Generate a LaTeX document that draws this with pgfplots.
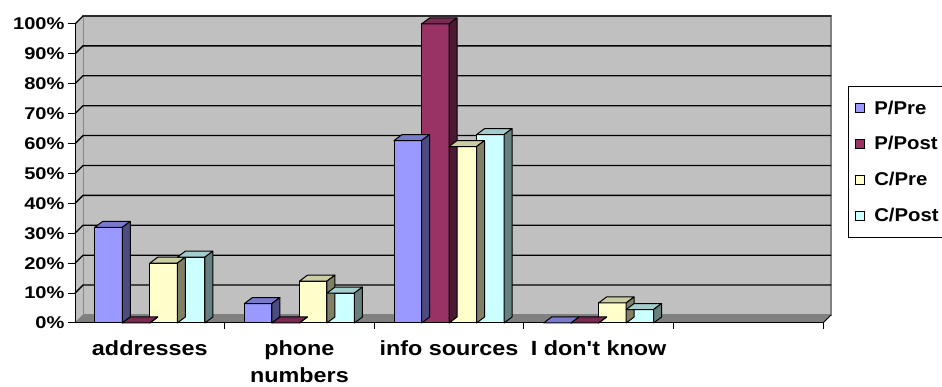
\documentclass[border=0pt]{standalone}
\usepackage{pgfplots}
\usepackage{pgfplotstable}
\pgfplotsset{compat=1.18}
\usepackage{fontspec}
\setmainfont{Liberation Sans}[FakeStretch=1.18]
\newfontfamily\catfont{Liberation Sans}[FakeStretch=1.14]
\newfontfamily\legfont{Liberation Sans}[FakeStretch=1.1]
\definecolor{pPre}{HTML}{9999FF}
\definecolor{pPost}{HTML}{993366}
\definecolor{cPre}{HTML}{FFFFCC}
\definecolor{cPost}{HTML}{CCFFFF}
\definecolor{wallc}{HTML}{C0C0C0}
\definecolor{floorc}{HTML}{808080}
\pgfdeclareplotmark{none3d}{}
\newcommand\legsq[1]{\draw[fill=#1,draw=black,line width=0.8pt] (0pt,-4.5pt) rectangle (9pt,4.5pt);}
\pgfplotsset{
  front/.style n args={2}{ybar, bar width=27.5pt, bar shift=#1, fill=#2, draw=black, line width=1pt,
     legend image code/.code={\legsq{#2}}},
  face3d/.style n args={2}{forget plot, only marks, scatter, mark=none3d,
     visualization depends on={rawy \as \barval},
     scatter/@pre marker code/.code={%
        \pgfmathsetlengthmacro{\barH}{\barval*2.99pt}%
        \begin{pgfscope}%
        \pgftransformshift{\pgfpoint{#1}{0pt}}%
        \filldraw[fill=#2!80!black, draw=black, line width=1pt, line join=round]
          (-13.75pt,0pt) -- (13.75pt,0pt) -- (21.75pt,6pt) -- (-5.75pt,6pt) -- cycle;
        \filldraw[fill=#2!50!black, draw=black, line width=1pt, line join=round]
          (13.75pt,0pt) -- (21.75pt,6pt) -- (21.75pt,6pt-\barH) -- (13.75pt,-\barH) -- cycle;
        \end{pgfscope}%
     },
     scatter/@post marker code/.code={}},
}
\pgfplotstableread{
x PPre PPost CPre CPost
0 32 0 20 22
1 6.5 0 14 10
2 61 100 59 63
3 0 0 6.7 4.5
}\datatable
\begin{document}
\begin{tikzpicture}
\useasboundingbox (0,0) rectangle (942pt,387pt);
\clip (0,0) rectangle (942pt,387pt);
\begin{axis}[
  at={(75pt,64pt)}, anchor=south west,
  x=149.6pt, y=2.99pt,
  xmin=-0.5, xmax=4.5, ymin=0, ymax=100,
  clip=false, axis on top,
  axis lines=left, axis line style={-, black, line width=1pt},
  tick align=outside,
  ytick={0,10,...,100},
  yticklabels={0\%,10\%,20\%,30\%,40\%,50\%,60\%,70\%,80\%,90\%,100\%},
  xtick={0,1,2,3},
  xticklabels={addresses,{phone\\numbers},info sources,I don't know},
  minor xtick={0.5,1.5,2.5,3.5,4.5},
  major tick length=7pt, minor tick length=6pt,
  tick style={black, line width=1pt},
  major x tick style={draw=none},
  yticklabel style={font=\bfseries\fontsize{17}{17}\selectfont},
  xticklabel style={font=\catfont\bfseries\fontsize{20.5}{27}\selectfont, align=center, anchor=north, yshift=-7pt},
  legend style={at={(1.0334,0.792)}, anchor=north west, draw=black, line width=1pt,
    font=\legfont\bfseries\fontsize{18.5}{18.5}\selectfont, row sep=17pt, inner xsep=7pt, inner ysep=12pt,
    /tikz/every odd column/.append style={column sep=7pt}},
  legend cell align=left,
]
% back wall
\filldraw[fill=wallc, draw=floorc, line width=1.5pt] ([shift={(8pt,8pt)}]axis cs:-0.5,0) rectangle ([shift={(8pt,8pt)}]axis cs:4.5,100);
% left wall
\fill[wallc] (axis cs:-0.5,0) -- ([shift={(8pt,8pt)}]axis cs:-0.5,0) -- ([shift={(8pt,8pt)}]axis cs:-0.5,100) -- (axis cs:-0.5,100) -- cycle;
\draw[floorc, line width=1pt] (axis cs:-0.5,0) -- ([shift={(8pt,8pt)}]axis cs:-0.5,0);
% floor
\fill[floorc] (axis cs:-0.5,0) -- (axis cs:4.5,0) -- ([shift={(8pt,8pt)}]axis cs:4.5,0) -- ([shift={(8pt,8pt)}]axis cs:-0.5,0) -- cycle;
\draw[black, line width=1pt] (axis cs:4.5,0) -- ([shift={(8pt,8pt)}]axis cs:4.5,0);
% grid lines
\pgfplotsinvokeforeach{10,20,30,40,50,60,70,80,90,100}{
  \draw[black, line width=1.3pt] (axis cs:-0.5,#1) -- ([shift={(8pt,8pt)}]axis cs:-0.5,#1) -- ([shift={(8pt,8pt)}]axis cs:4.5,#1);
}
\addplot[front={-41.25pt}{pPre}] table[x=x,y=PPre]{\datatable};
\addlegendentry{P/Pre}
\addplot[face3d={-41.25pt}{pPre}] table[x=x,y=PPre]{\datatable};
\addplot[front={-13.75pt}{pPost}] table[x=x,y=PPost]{\datatable};
\addlegendentry{P/Post}
\addplot[face3d={-13.75pt}{pPost}] table[x=x,y=PPost]{\datatable};
\addplot[front={13.75pt}{cPre}] table[x=x,y=CPre]{\datatable};
\addlegendentry{C/Pre}
\addplot[face3d={13.75pt}{cPre}] table[x=x,y=CPre]{\datatable};
\addplot[front={41.25pt}{cPost}] table[x=x,y=CPost]{\datatable};
\addlegendentry{C/Post}
\addplot[face3d={41.25pt}{cPost}] table[x=x,y=CPost]{\datatable};
\end{axis}
\end{tikzpicture}
\end{document}
